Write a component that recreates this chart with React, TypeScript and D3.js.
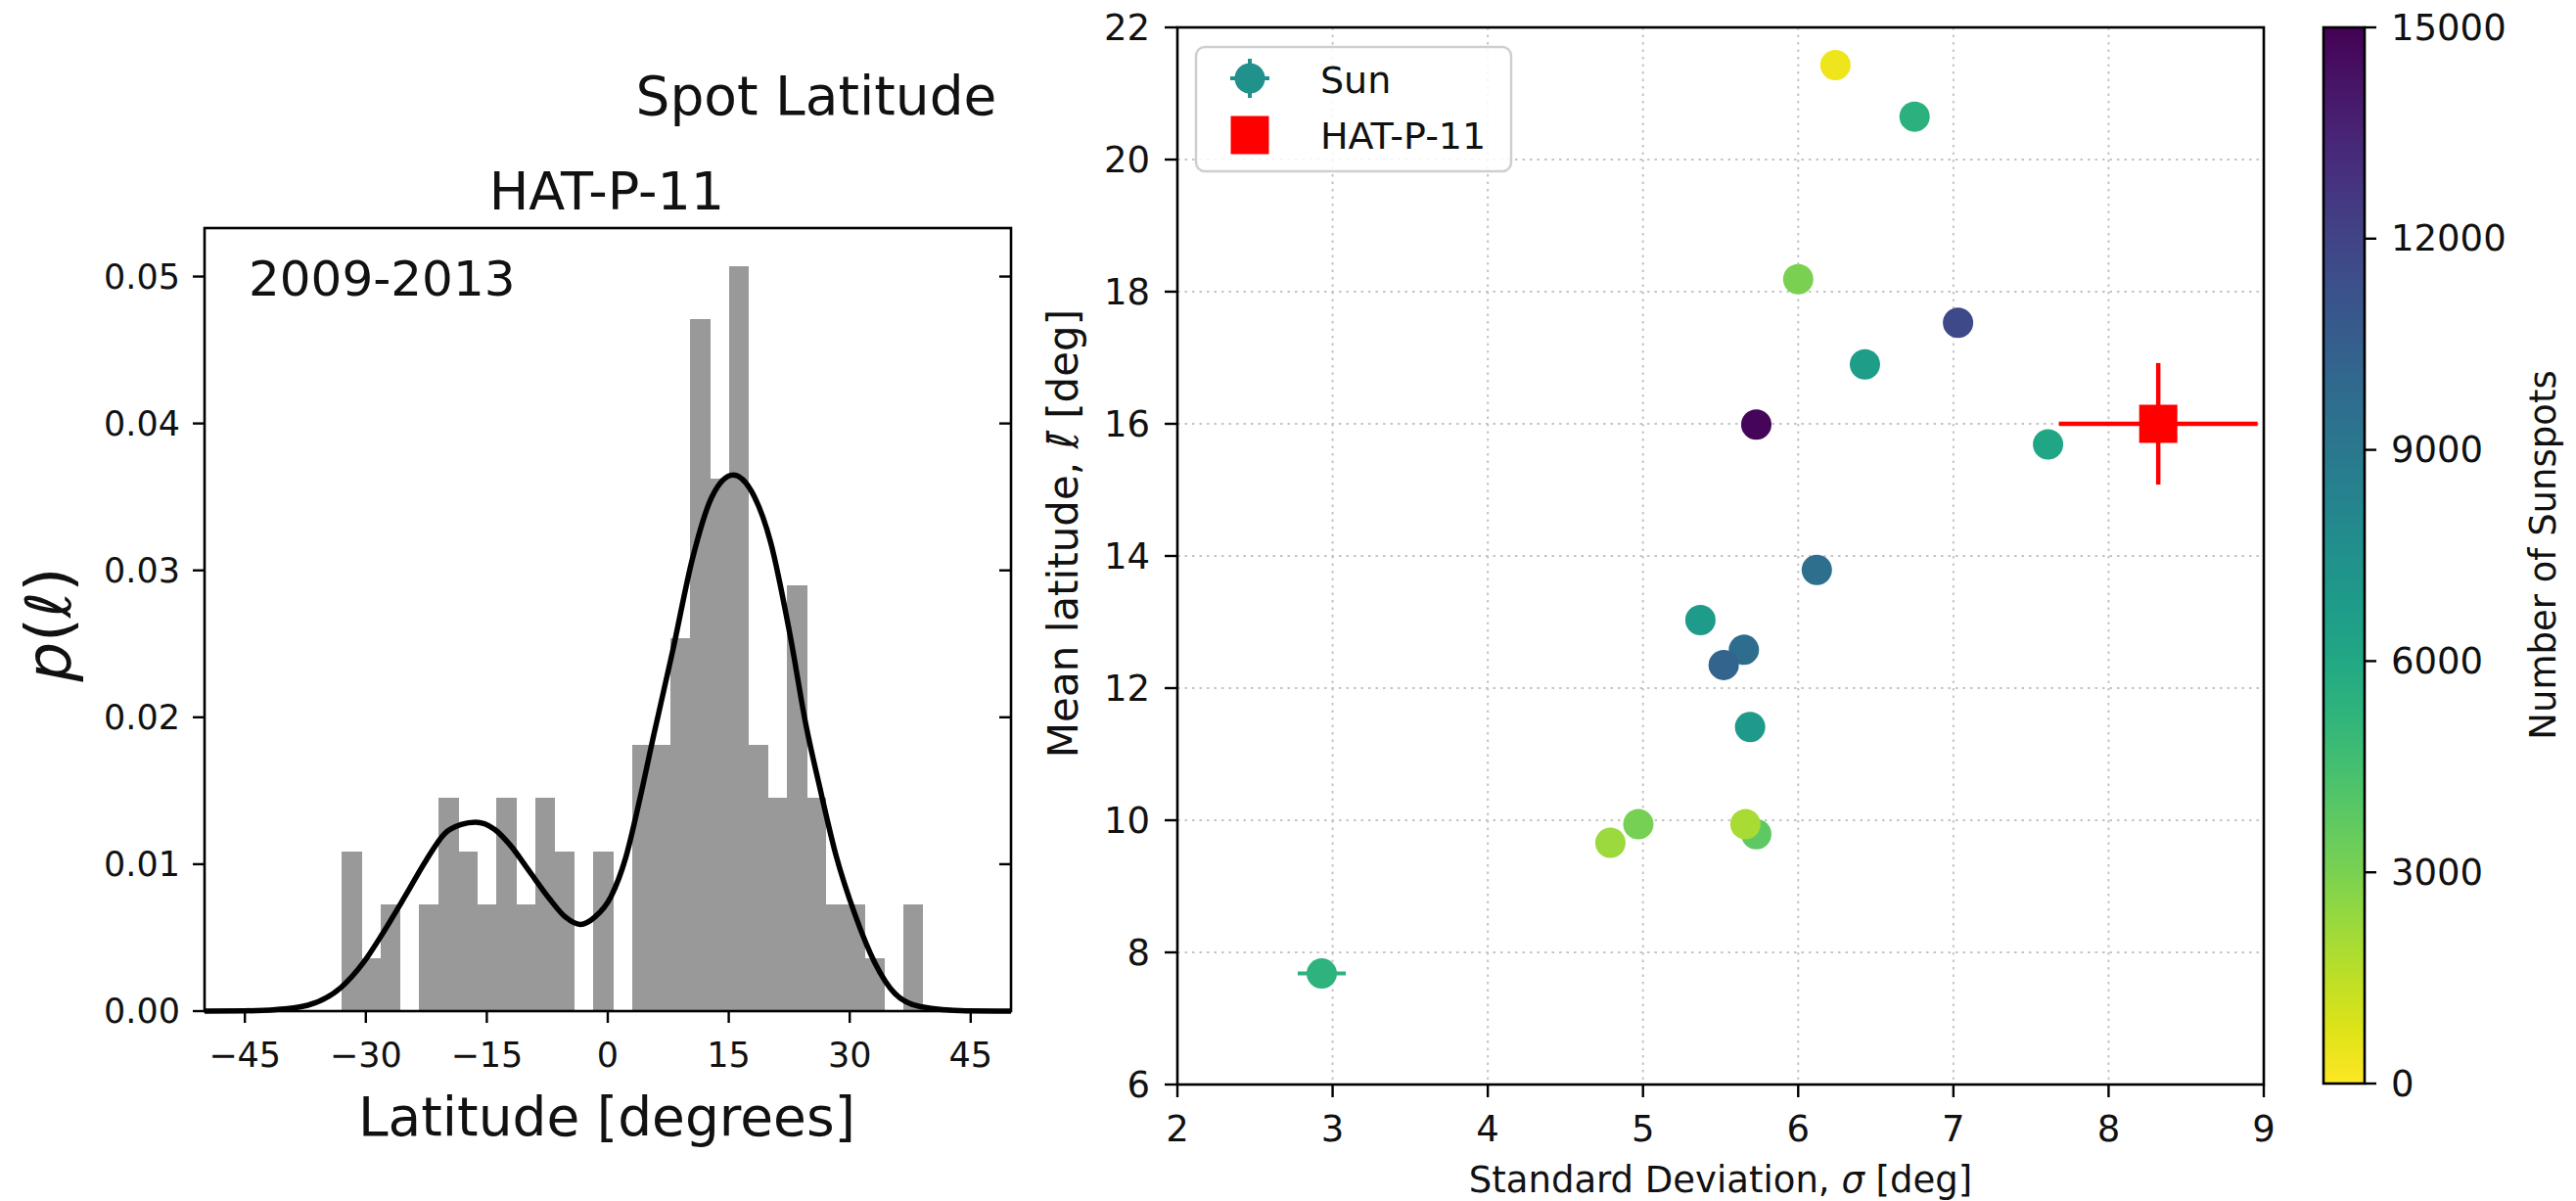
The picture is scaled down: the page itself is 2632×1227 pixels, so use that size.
import React from 'react';
import * as d3 from 'd3';

const W = 2632;
const H = 1227;
const FONT = "'DejaVu Sans', sans-serif";

// ---------------- Left panel: HAT-P-11 spot latitude histogram ----------------
const binEdges = [-33.0, -30.6, -28.2, -25.8, -23.4, -21.0, -18.6, -16.2, -13.8, -11.4, -9.0, -6.6, -4.2, -1.8, 0.6, 3.0, 5.4, 7.8, 10.2, 12.6, 15.0, 17.4, 19.8, 22.2, 24.6, 27.0, 29.4, 31.8, 34.2, 36.6, 39.0];
const binCounts = [3, 1, 2, 0, 2, 4, 3, 2, 4, 2, 4, 3, 0, 3, 0, 5, 5, 7, 13, 10, 14, 5, 4, 8, 4, 2, 2, 1, 0, 2];
const kdeLat = [-50, -45, -41.2, -37.2, -33.1, -30.3, -27.9, -25.05, -22.6, -20.2, -18.2, -16.4, -14.1, -12.1, -9.7, -7.3, -5.25, -3.4, -1.6, 0.4, 2.2, 4.0, 5.66, 8.08, 10.5, 12.9, 15.56, 17.8, 20.2, 22.6, 24.6, 26.3, 28.3, 30.7, 33.1, 35.6, 38.8, 44.4, 50];
const kdeDensity = [0, 0.00002, 0.0001, 0.0004, 0.0016, 0.0033, 0.0053, 0.0079, 0.0102, 0.0121, 0.0127, 0.01286, 0.0124, 0.0113, 0.0095, 0.0077, 0.0064, 0.0059, 0.0064, 0.0078, 0.0104, 0.0145, 0.0187, 0.0246, 0.0308, 0.0350, 0.0365, 0.0354, 0.0319, 0.0256, 0.0194, 0.0152, 0.0106, 0.0065, 0.0033, 0.0012, 0.0003, 0.00002, 0];
const latTicks = [-45, -30, -15, 0, 15, 30, 45];
const densityTicks = [0, 0.01, 0.02, 0.03, 0.04, 0.05];

// ---------------- Right panel: Sun cycles vs HAT-P-11 ----------------
const sunSigma = [6.24, 6.75, 6.0, 7.03, 6.43, 5.73, 7.61, 6.12, 5.37, 5.65, 5.52, 5.69, 4.97, 4.79, 5.73, 5.66, 2.93];
const sunMean = [21.43, 20.65, 18.19, 17.53, 16.9, 15.99, 15.69, 13.79, 13.03, 12.58, 12.35, 11.41, 9.94, 9.66, 9.79, 9.94, 7.68];
const sunCount = [400, 5400, 3000, 11700, 6700, 14800, 6100, 9600, 6800, 9700, 10200, 6900, 3150, 2250, 3750, 1950, 5300];
const sunSigmaErr = [0.05, 0.05, 0.05, 0.05, 0.05, 0.05, 0.05, 0.05, 0.05, 0.05, 0.05, 0.05, 0.05, 0.05, 0.05, 0.05, 0.155];
const sunMeanErr = [0.08, 0.08, 0.08, 0.08, 0.08, 0.08, 0.08, 0.08, 0.08, 0.08, 0.08, 0.08, 0.08, 0.08, 0.08, 0.08, 0.12];
const hatSigma = [8.32];
const hatMean = [16.0];
const hatSigmaErr = [0.64];
const hatMeanErr = [0.92];
const sigmaTicks = [2, 3, 4, 5, 6, 7, 8, 9];
const meanTicks = [6, 8, 10, 12, 14, 16, 18, 20, 22];
const countTicks = [0, 3000, 6000, 9000, 12000, 15000];
const legendLabels = ['Sun', 'HAT-P-11'];

const fmtMinus = (v: number) => (v < 0 ? '\u2212' + Math.abs(v) : String(v));

export default function App() {
  // left scales
  const lx = d3.scaleLinear().domain([-50, 50]).range([209, 1033]);
  const ly = d3.scaleLinear().domain([0, 0.0533]).range([1033, 233]);
  const nTotal = d3.sum(binCounts);
  const bins = binCounts.map((c, i) => {
    const w = binEdges[i + 1] - binEdges[i];
    return { x0: binEdges[i], x1: binEdges[i + 1], d: c / (nTotal * w) };
  });
  const kdeLine = d3
    .line<number>()
    .x((_, i) => lx(kdeLat[i]))
    .y((d) => ly(d))
    .curve(d3.curveMonotoneX)(kdeDensity) as string;

  // right scales
  const rx = d3.scaleLinear().domain([2, 9]).range([1203, 2313]);
  const ry = d3.scaleLinear().domain([6, 22]).range([1108, 28]);
  const cScale = d3.scaleLinear().domain([0, 15000]).range([1107, 28]);
  const color = (n: number) => d3.interpolateViridis(1 - n / 15000);
  const cbStops = d3.range(0, 1.0001, 0.05);

  const spine = { stroke: '#000', strokeWidth: 2.6, fill: 'none' } as const;
  const tickW = 2.4;

  return (
    <svg width={W} height={H} style={{ position: 'absolute', left: 0, top: 0, background: '#fff' }} fontFamily={FONT}>
      <defs>
        <linearGradient id="viridisR" x1="0" y1="1" x2="0" y2="0">
          {cbStops.map((t) => (
            <stop key={t} offset={t} stopColor={d3.interpolateViridis(1 - t)} />
          ))}
        </linearGradient>
      </defs>
      <rect x={0} y={0} width={W} height={H} fill="#fff" />

      {/* ======== Left panel ======== */}
      <text x={834} y={117} fontSize={55} textAnchor="middle" fill="#111">Spot Latitude</text>
      <text x={620} y={214} fontSize={54} textAnchor="middle" fill="#111">HAT-P-11</text>
      <g shapeRendering="crispEdges">
        {bins.map((b, i) => (
          <rect key={i} x={lx(b.x0)} y={ly(b.d)} width={Math.max(0, lx(b.x1) - lx(b.x0) + 0.8)} height={ly(0) - ly(b.d)} fill="#999999" />
        ))}
      </g>
      <path d={kdeLine} fill="none" stroke="#000" strokeWidth={5.5} strokeLinejoin="round" />
      <rect x={209} y={233} width={824} height={800} {...spine} />
      <text x={254} y={302} fontSize={50} fill="#111">2009-2013</text>
      {densityTicks.map((t) => (
        <g key={t}>
          <line x1={197} x2={209} y1={ly(t)} y2={ly(t)} stroke="#000" strokeWidth={tickW} />
          <line x1={1021} x2={1033} y1={ly(t)} y2={ly(t)} stroke="#000" strokeWidth={tickW} />
          <text x={184} y={ly(t)} fontSize={35} textAnchor="end" dominantBaseline="central" fill="#111">{t.toFixed(2)}</text>
        </g>
      ))}
      {latTicks.map((t) => (
        <g key={t}>
          <line x1={lx(t)} x2={lx(t)} y1={1033} y2={1045} stroke="#000" strokeWidth={tickW} />
          <text x={lx(t)} y={1090} fontSize={35} textAnchor="middle" fill="#111">{fmtMinus(t)}</text>
        </g>
      ))}
      <text x={620} y={1160} fontSize={55} textAnchor="middle" fill="#111">Latitude [degrees]</text>
      <text transform="translate(72,638) rotate(-90)" fontSize={64} textAnchor="middle" fill="#111">
        <tspan fontStyle="italic">p</tspan>
        <tspan>(</tspan>
        <tspan fontStyle="italic">{'\u2113'}</tspan>
        <tspan>)</tspan>
      </text>

      {/* ======== Right panel ======== */}
      {sigmaTicks.slice(1, -1).map((t) => (
        <line key={'gx' + t} x1={rx(t)} x2={rx(t)} y1={28} y2={1108} stroke="#c4c4c4" strokeWidth={2} strokeDasharray="2.5,5" />
      ))}
      {meanTicks.slice(1, -1).map((t) => (
        <line key={'gy' + t} x1={1203} x2={2313} y1={ry(t)} y2={ry(t)} stroke="#c4c4c4" strokeWidth={2} strokeDasharray="2.5,5" />
      ))}
      {sunSigma.map((s, i) => (
        <g key={'sun' + i}>
          <line x1={rx(s - sunSigmaErr[i])} x2={rx(s + sunSigmaErr[i])} y1={ry(sunMean[i])} y2={ry(sunMean[i])} stroke={color(sunCount[i])} strokeWidth={4} />
          <line x1={rx(s)} x2={rx(s)} y1={ry(sunMean[i] - sunMeanErr[i])} y2={ry(sunMean[i] + sunMeanErr[i])} stroke={color(sunCount[i])} strokeWidth={4} />
          <circle cx={rx(s)} cy={ry(sunMean[i])} r={15.5} fill={color(sunCount[i])} />
        </g>
      ))}
      {hatSigma.map((s, i) => (
        <g key={'hat' + i}>
          <line x1={rx(s - hatSigmaErr[i])} x2={rx(s + hatSigmaErr[i])} y1={ry(hatMean[i])} y2={ry(hatMean[i])} stroke="#ff0000" strokeWidth={4.5} />
          <line x1={rx(s)} x2={rx(s)} y1={ry(hatMean[i] - hatMeanErr[i])} y2={ry(hatMean[i] + hatMeanErr[i])} stroke="#ff0000" strokeWidth={4.5} />
          <rect x={rx(s) - 19.5} y={ry(hatMean[i]) - 19.5} width={39} height={39} fill="#ff0000" />
        </g>
      ))}
      <rect x={1203} y={28} width={1110} height={1080} {...spine} />
      {meanTicks.map((t) => (
        <g key={'yt' + t}>
          <line x1={1190} x2={1203} y1={ry(t)} y2={ry(t)} stroke="#000" strokeWidth={tickW} />
          <text x={1175} y={ry(t)} fontSize={37} textAnchor="end" dominantBaseline="central" fill="#111">{t}</text>
        </g>
      ))}
      {sigmaTicks.map((t) => (
        <g key={'xt' + t}>
          <line x1={rx(t)} x2={rx(t)} y1={1108} y2={1121} stroke="#000" strokeWidth={tickW} />
          <text x={rx(t)} y={1166} fontSize={37} textAnchor="middle" fill="#111">{t}</text>
        </g>
      ))}
      <text x={1758} y={1218} fontSize={37} textAnchor="middle" fill="#111">
        Standard Deviation, <tspan fontStyle="italic">{'\u03c3'}</tspan> [deg]
      </text>
      <text transform="translate(1101,545) rotate(-90)" fontSize={42} textAnchor="middle" fill="#111">
        Mean latitude, <tspan fontStyle="italic">{'\u2113\u0304'}</tspan> [deg]
      </text>

      {/* legend */}
      <rect x={1222} y={48} width={322} height={127} rx={9} fill="#fff" fillOpacity={0.85} stroke="#cfcfcf" strokeWidth={2.5} />
      <g>
        <line x1={1257} x2={1297} y1={80} y2={80} stroke="#21918c" strokeWidth={4} />
        <line x1={1277} x2={1277} y1={60} y2={100} stroke="#21918c" strokeWidth={4} />
        <circle cx={1277} cy={80} r={15.5} fill="#21918c" />
        <rect x={1257.5} y={118.5} width={39} height={39} fill="#ff0000" />
        <text x={1349} y={95} fontSize={38} fill="#111">{legendLabels[0]}</text>
        <text x={1349} y={152} fontSize={38} fill="#111">{legendLabels[1]}</text>
      </g>

      {/* colorbar */}
      <rect x={2374} y={28} width={42} height={1079} fill="url(#viridisR)" />
      <rect x={2374} y={28} width={42} height={1079} {...spine} />
      {countTicks.map((t) => (
        <g key={'ct' + t}>
          <line x1={2416} x2={2428} y1={cScale(t)} y2={cScale(t)} stroke="#000" strokeWidth={tickW} />
          <text x={2443} y={cScale(t)} fontSize={37} dominantBaseline="central" fill="#111">{t}</text>
        </g>
      ))}
      <text transform="translate(2598,567) rotate(-90)" fontSize={37} textAnchor="middle" dominantBaseline="central" fill="#111">Number of Sunspots</text>
    </svg>
  );
}
